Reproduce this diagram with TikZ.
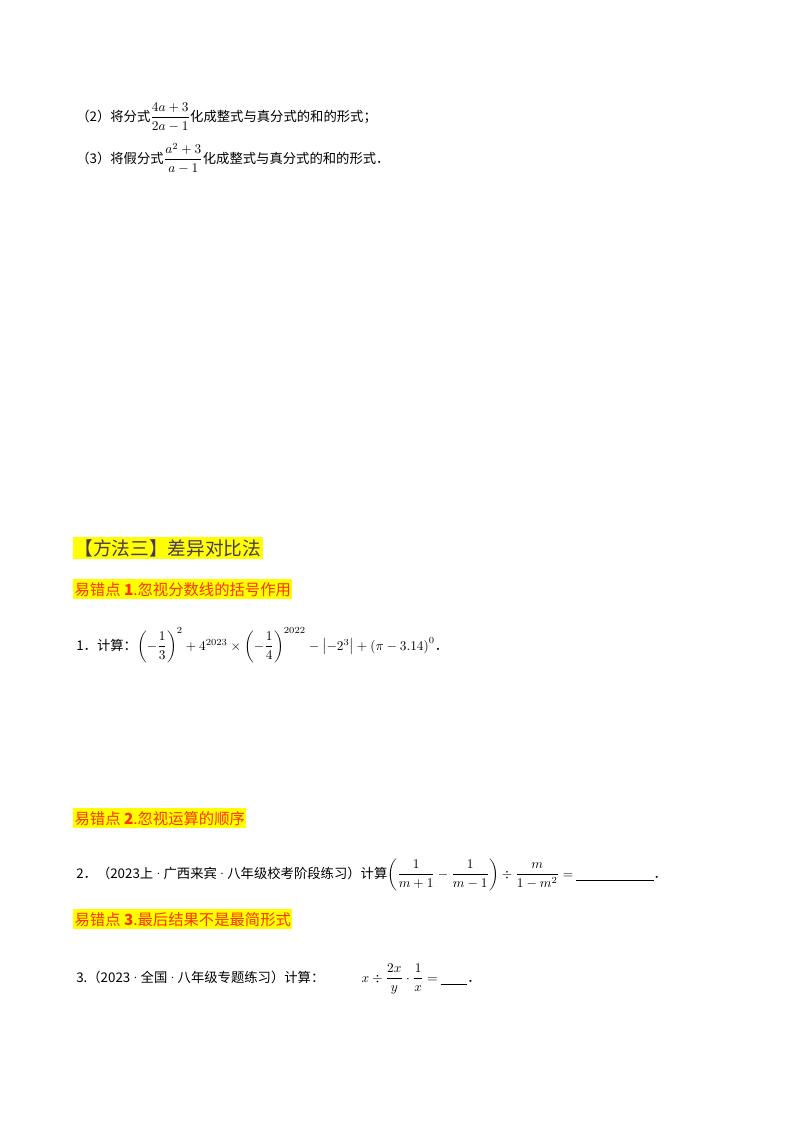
\documentclass[tikz,border=0pt]{standalone}
\usepackage{fontspec}
\usepackage{amsmath}
\newfontfamily\cjk{Noto Sans CJK SC}
\newcommand{\mydot}{{\normalfont\textperiodcentered}}
\definecolor{hl}{HTML}{FFFF00}
\definecolor{err}{HTML}{FF3300}
\definecolor{head}{HTML}{4A3A5A}
\tikzset{
  txt/.style={anchor=base west,inner sep=0pt,font=\cjk\fontsize{10pt}{12pt}\selectfont},
  hbox/.style={anchor=base west,fill=hl,inner xsep=1pt,inner ysep=2pt},
  errbox/.style={hbox,text=err,font=\cjk\fontsize{11.5pt}{13pt}\selectfont},
}
\begin{document}
\begin{tikzpicture}[x=0.75pt,y=-0.75pt]
\useasboundingbox[fill=white] (0,0) rectangle (800,1132);
\node[txt] (q2) at (76,121) {（2）将分式$\dfrac{4a+3}{2a-1}$化成整式与真分式的和的形式；};
\node[txt] (q3) at (76,163) {（3）将假分式$\dfrac{a^2+3}{a-1}$化成整式与真分式的和的形式．};
\node[hbox,text=head,font=\cjk\fontsize{14pt}{16pt}\selectfont] (h) at (73,555) {【方法三】差异对比法};
\node[errbox] (e1) at (73,595) {易错点 \textbf{1}.忽视分数线的括号作用};
\node[txt] (p1) at (76,650) {1．计算：$\left(-\dfrac13\right)^{2}+4^{2023}\times\left(-\dfrac14\right)^{2022}-\left|-2^3\right|+\left(\pi-3.14\right)^0$．};
\node[errbox] (e2) at (73,824) {易错点 \textbf{2}.忽视运算的顺序};
\node[txt] (p2) at (76,878) {2．（2023上\mydot 广西来宾\mydot 八年级校考阶段练习）计算$\left(\dfrac{1}{m+1}-\dfrac{1}{m-1}\right)\div\dfrac{m}{1-m^2}=$\ \underline{\hspace{58pt}}．};
\node[errbox] (e3) at (73,925) {易错点 \textbf{3}.最后结果不是最简形式};
\node[txt] (p3) at (76,982) {3.（2023\mydot 全国\mydot 八年级专题练习）计算：\hspace{28pt}$x\div\dfrac{2x}{y}\cdot\dfrac{1}{x}=$\ \underline{\hspace{20pt}}．};
\end{tikzpicture}
\end{document}
